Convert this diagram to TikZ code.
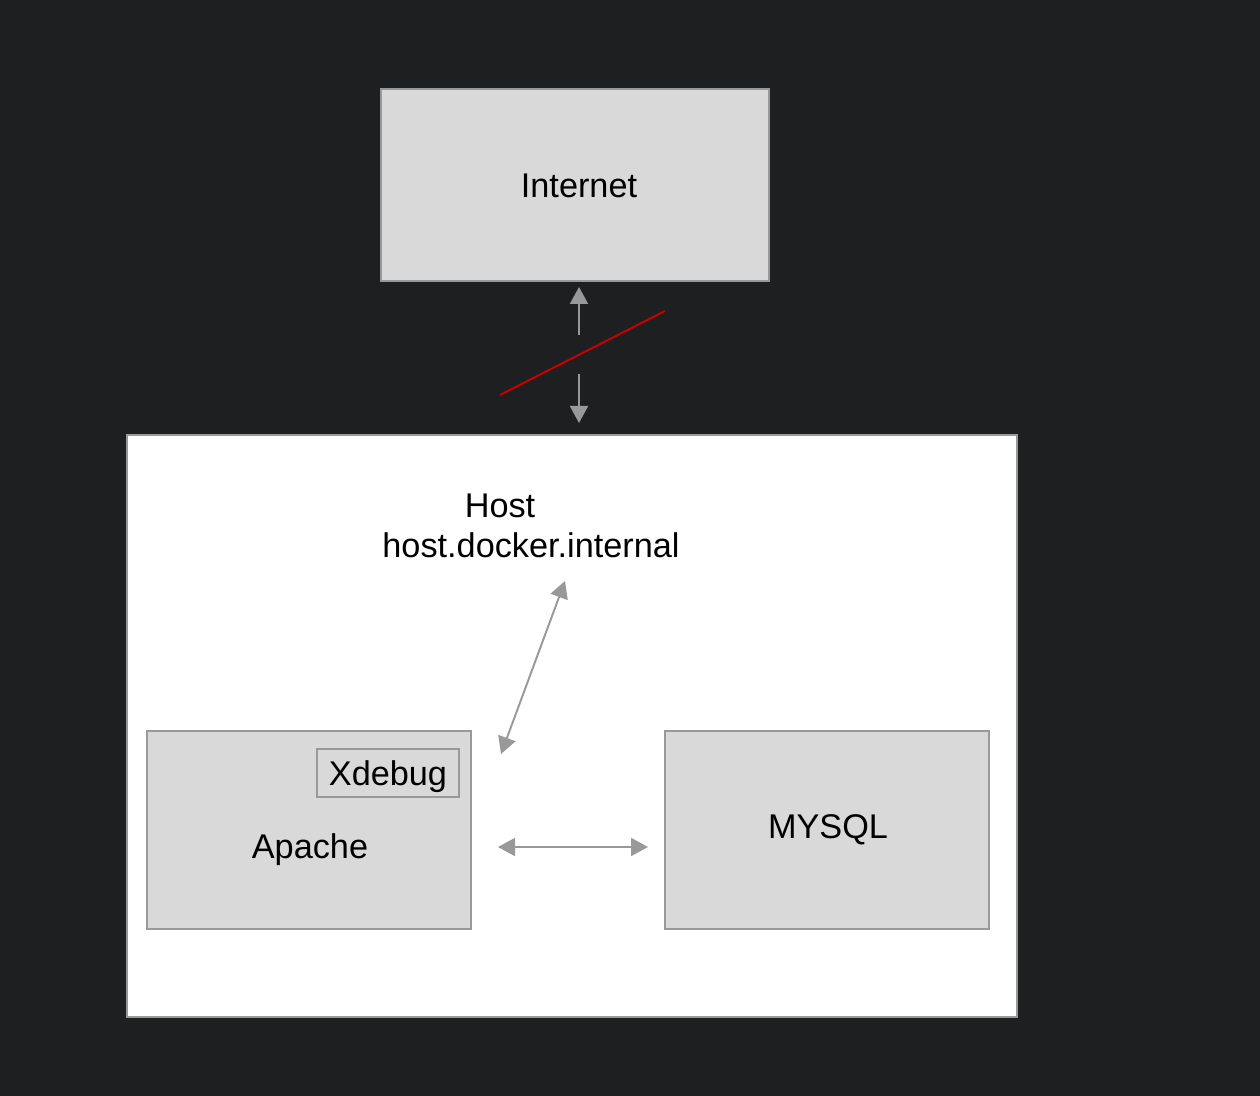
\documentclass[tikz,border=0pt]{standalone}
\usepackage{fontspec}
\setmainfont{Liberation Sans}
\usetikzlibrary{positioning, arrows.meta}

\definecolor{darkbg}{HTML}{1E1F21}
\definecolor{boxfill}{HTML}{D9D9D9}
\definecolor{boxline}{HTML}{999999}
\definecolor{cutred}{HTML}{CC0000}

\begin{document}
\begin{tikzpicture}[
  font=\fontsize{19.5}{23.5}\selectfont,
  box/.style      = {draw=boxline, fill=boxfill, line width=1.1pt, inner sep=0pt},
  host box/.style = {draw=boxline, fill=white, line width=1.1pt, inner sep=0pt},
  label/.style    = {inner sep=0pt, text=black},
  link/.style     = {{Triangle[length=3.4mm,width=3.6mm]}-{Triangle[length=3.4mm,width=3.6mm]}, line width=1.1pt, color=boxline},
  oneway/.style   = {-{Triangle[length=3.4mm,width=3.6mm]}, line width=1.1pt, color=boxline},
  cut/.style      = {line width=1.1pt, color=cutred},
]

% background, fixes the page size
\fill[darkbg] (0,0) rectangle (25.2,-21.92);
\useasboundingbox (0,0) rectangle (25.2,-21.92);

% =============================================================
% Internet
% =============================================================
\node[box, minimum width=7.76cm, minimum height=3.84cm] (internet) at (11.5,-3.7) {};
\node[label] (internettext) at (11.58,-3.72) {Internet};

% =============================================================
% Host with its containers
% =============================================================
\node[host box, minimum width=17.8cm, minimum height=11.64cm] (host) at (11.44,-14.52) {};
\node[label] (hostname)  at (10.0,-10.12)  {Host};
\node[label] (hostalias) at (10.62,-10.9) {host.docker.internal};

\node[box, minimum width=6.48cm, minimum height=3.96cm] (apache) at (6.18,-16.6) {};
\node[label] (apachetext) at (6.2,-17.0) {Apache};
\node[box, minimum width=2.84cm, minimum height=0.96cm] (xdebug) at (7.76,-15.46) {};
\node[label] (xdebugtext) at (7.76,-15.54) {Xdebug};

\node[box, minimum width=6.48cm, minimum height=3.96cm] (mysql) at (16.54,-16.6) {};
\node[label] (mysqltext) at (16.56,-16.6) {MYSQL};

% connector ends
\coordinate (uptail)   at (11.58,-6.7);
\coordinate (uptip)    at (11.58,-5.74);
\coordinate (downtail) at (11.58,-7.48);
\coordinate (downtip)  at (11.58,-8.46);
\coordinate (cutlow)   at (10.0,-7.9);
\coordinate (cuthigh)  at (13.3,-6.22);
\coordinate (hostend)  at (11.3,-11.62);
\coordinate (xdbgend)  at (10.02,-15.08);
\coordinate (apacheend) at (9.96,-16.94);
\coordinate (mysqlend)  at (12.96,-16.94);

% link to the internet, cut
\draw[oneway] (uptail) -- (uptip);
\draw[oneway] (downtail) -- (downtip);
\draw[cut] (cutlow) -- (cuthigh);

% links inside the host
\draw[link] (hostend) -- (xdbgend);
\draw[link] (apacheend) -- (mysqlend);

\end{tikzpicture}
\end{document}
